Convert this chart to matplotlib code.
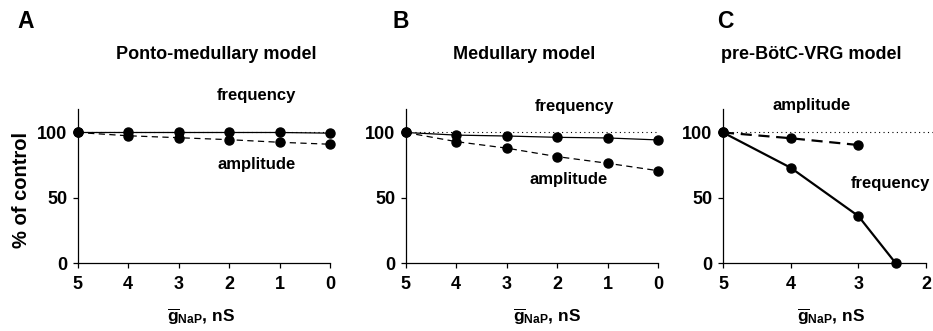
import matplotlib
matplotlib.use("Agg")
import matplotlib.pyplot as plt

plt.rcParams['font.family'] = ['Liberation Sans', 'DejaVu Sans']
plt.rcParams['font.weight'] = 'bold'
plt.rcParams['mathtext.fontset'] = 'custom'
plt.rcParams['mathtext.rm'] = 'Liberation Sans:bold'
plt.rcParams['mathtext.bf'] = 'Liberation Sans:bold'
plt.rcParams['mathtext.it'] = 'Liberation Sans:bold'

# data
gnap_ab = [5, 4, 3, 2, 1, 0]
freq_a = [100, 100, 100, 100, 100, 99.5]
amp_a = [100, 97.5, 96, 94.5, 92.5, 91]
freq_b = [100, 98, 97.3, 96.3, 95.8, 94.3]
amp_b = [100, 93, 88, 81.5, 76.4, 70.7]
gnap_c_freq = [5, 4, 3, 2.45]
freq_c = [100, 73, 36, 0]
gnap_c_amp = [5, 4, 3]
amp_c = [100, 95.6, 90.4]

titles = ["Ponto-medullary model", "Medullary model", "pre-BötC-VRG model"]
letters = ["A", "B", "C"]
xlabel = r"$\overline{\mathbf{g}}_{\mathbf{NaP}}$, nS"

W, H = 933, 331
fig = plt.figure(figsize=(W / 100, H / 100), dpi=100)

def px_axes(x0, x1, ytop=109, ybot=263):
    return fig.add_axes([x0 / W, 1 - ybot / H, (x1 - x0) / W, (ybot - ytop) / H])

axA = px_axes(77.5, 330)
axB = px_axes(405.7, 658.3)
axC = px_axes(723, 926)

def style(ax, xlim, xticks, lab_x):
    ax.set_xlim(*xlim)
    ax.set_ylim(0, 118)
    ax.set_xticks(xticks)
    ax.set_yticks([0, 50, 100])
    for s in ['top', 'right']:
        ax.spines[s].set_visible(False)
    for s in ['left', 'bottom']:
        ax.spines[s].set_linewidth(0.9)
    ax.tick_params(direction='out', length=3.5, width=0.9, labelsize=13, pad=4)
    ax.tick_params(axis='x', pad=6)
    ax.set_xlabel(xlabel, fontsize=12.5, fontweight='bold')
    ax.xaxis.set_label_coords(lab_x, -0.28)
    for lbl in ax.get_xticklabels() + ax.get_yticklabels():
        lbl.set_fontweight('bold')

style(axA, (5, 0), gnap_ab, 0.49)
style(axB, (5, 0), gnap_ab, 0.558)
style(axC, (5, 2), [5, 4, 3, 2], 0.53)

axA.set_ylabel("% of control", fontsize=14.5, fontweight='bold')
axA.yaxis.set_label_coords(-0.184, 0.474)

dot = dict(color='black', lw=0.8, ls=(0, (1, 3)), clip_on=False)
axA.axhline(100, **dot)
axB.axhline(100, **dot)
axC.axhline(100, xmax=1.035, **dot)

mk = dict(marker='o', ms=6.5, color='black', clip_on=False, zorder=3)
axA.plot(gnap_ab, freq_a, ls='-', lw=0.9, **mk)
axA.plot(gnap_ab, amp_a, ls=(0, (5, 3.5)), lw=0.9, **mk)
axB.plot(gnap_ab, freq_b, ls='-', lw=0.9, **mk)
axB.plot(gnap_ab, amp_b, ls=(0, (5, 3.5)), lw=0.9, **mk)
axC.plot(gnap_c_freq, freq_c, ls='-', lw=1.6, **mk)
axC.plot(gnap_c_amp, amp_c, ls=(0, (5, 3)), lw=1.6, **mk)

tk = dict(fontsize=12, fontweight='bold', ha='center', va='baseline')
axA.text(1.45, 124.9, "frequency", **tk)
axA.text(1.45, 71.8, "amplitude", **tk)
axB.text(1.66, 116.5, "frequency", **tk)
axB.text(1.78, 60.3, "amplitude", **tk)
axC.text(3.695, 117.2, "amplitude", **tk)
axC.text(2.53, 57.2, "frequency", **tk)

title_x = [216, 524, 811]
for t, x in zip(titles, title_x):
    fig.text(x / W, 1 - 59 / H, t, fontsize=13, fontweight='bold', ha='center', va='baseline')

letter_x = [17, 393, 717]
for l, x in zip(letters, letter_x):
    fig.text(x / W, 1 - 28.5 / H, l, fontsize=16.5, fontweight='bold', ha='left', va='baseline')

fig.savefig("out.png", dpi=100)
